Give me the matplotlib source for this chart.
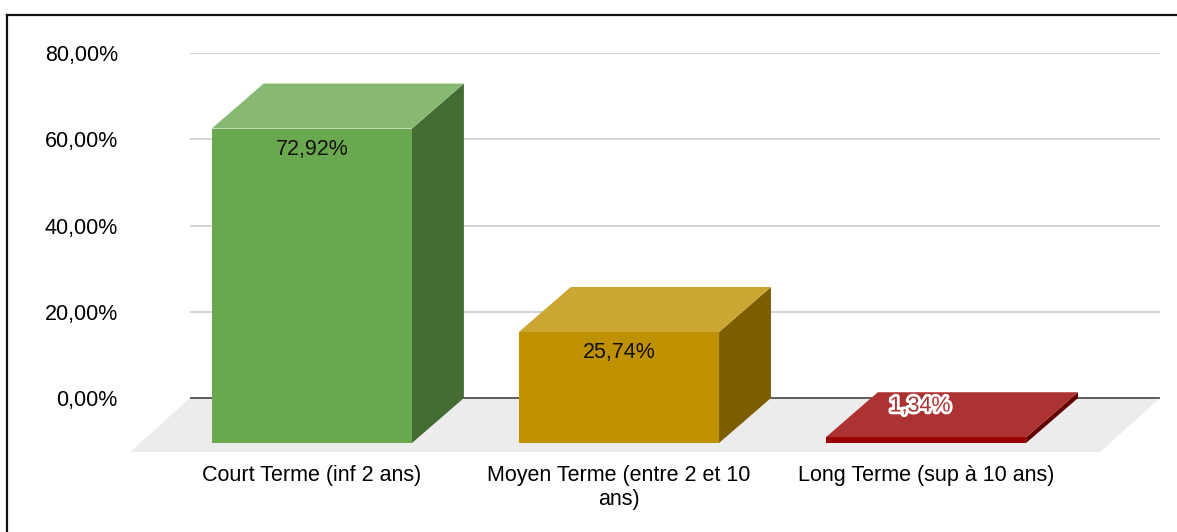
"""Pseudo-3D bar chart: split by term (court / moyen / long)."""

import matplotlib.pyplot as plt
import matplotlib.patheffects as pe
from matplotlib.colors import to_rgb
from matplotlib.lines import Line2D

categories = ["Court Terme (inf 2 ans)", "Moyen Terme (entre 2 et 10\nans)",
              "Long Terme (sup à 10 ans)"]
values = [72.92, 25.74, 1.34]
value_labels = ["72,92%", "25,74%", "1,34%"]
bar_colors = ["#6aa84f", "#bf9000", "#990000"]
ytick_values = [0, 20, 40, 60, 80]
ytick_labels = ["0,00%", "20,00%", "40,00%", "60,00%", "80,00%"]

# 3D look: offset between the front face and the back plane
DX, DY = 0.169, 10.43
HALF_W = 0.326
FLOOR_DX, FLOOR_DY = 0.195, 12.52
FS = 15.5

plt.rcParams["font.family"] = ["Liberation Sans", "DejaVu Sans"]

W, H = 1177, 532
fig = plt.figure(figsize=(W / 100, H / 100), dpi=100)
ax = fig.add_axes([190 / W, 1 - 452 / H, 970 / W, 399 / H])
ax.set_xlim(-0.397, 2.762)
ax.set_ylim(-FLOOR_DY, 80)


def shade(color, f):
    r, g, b = to_rgb(color)
    if f >= 0:
        return (r + (1 - r) * f, g + (1 - g) * f, b + (1 - b) * f)
    return (r * (1 + f), g * (1 + f), b * (1 + f))


# floor
x0, x1 = ax.get_xlim()
ax.fill([x0, x1, x1 - FLOOR_DX, x0 - FLOOR_DX], [0, 0, -FLOOR_DY, -FLOOR_DY],
        color="#ececec", lw=0, zorder=0.5, clip_on=False)

for v in ytick_values[1:]:
    ax.axhline(v, color="#cccccc", lw=1.2, zorder=0.6)
ax.axhline(0, color="#444444", lw=1.2, zorder=0.7)

for i, (v, c, lab) in enumerate(zip(values, bar_colors, value_labels)):
    xl, xr = i - HALF_W, i + HALF_W
    yb, yt = -DY, v - DY
    # side
    ax.fill([xr, xr + DX, xr + DX, xr], [yb, yb + DY, yt + DY, yt],
            color=shade(c, -0.35), lw=0, zorder=2)
    # top
    ax.fill([xl, xr, xr + DX, xl + DX], [yt, yt, yt + DY, yt + DY],
            color=shade(c, 0.2), lw=0, zorder=2)
    # front
    ax.fill([xl, xr, xr, xl], [yb, yb, yt, yt], color=c, lw=0, zorder=3)

    if v > 20:
        ax.text(i, v - 15.3, lab, ha="center", va="center", fontsize=FS,
                color="#111111", zorder=5)
    else:
        ax.text(i - 0.02, v - 3.2, lab, ha="center", va="center", fontsize=FS,
                color=shade(c, 0.2), zorder=5,
                path_effects=[pe.withStroke(linewidth=4, foreground="white")])

ax.set_yticks(ytick_values, ytick_labels, fontsize=FS)
ax.set_xticks(range(len(categories)), categories, fontsize=FS)
ax.tick_params(axis="y", length=0, pad=52)
ax.tick_params(axis="x", length=0, pad=9)
for s in ax.spines.values():
    s.set_visible(False)

# outer frame
fig.add_artist(Line2D([7 / W, 7 / W], [0, 1 - 15 / H], color="#111111", lw=1.6))
fig.add_artist(Line2D([7 / W, 1], [1 - 15 / H, 1 - 15 / H], color="#111111", lw=1.6))

fig.savefig("out.png", dpi=100)
